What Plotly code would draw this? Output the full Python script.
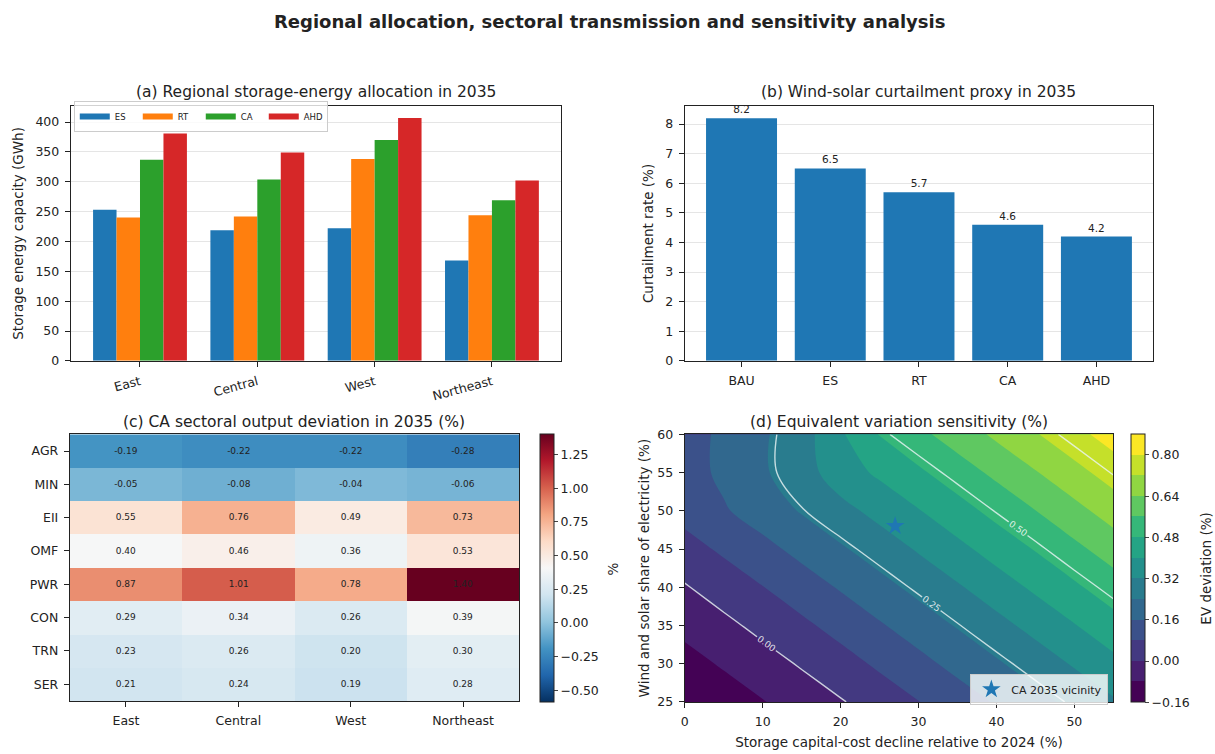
import plotly.graph_objects as go

W, H = 1215, 754

# (a) regional storage-energy allocation, GWh
regions = ["East", "Central", "West", "Northeast"]
scenarios = ["ES", "RT", "CA", "AHD"]
storage_es = [253, 219, 222, 168]
storage_rt = [240, 242, 338, 244]
storage_ca = [337, 304, 370, 269]
storage_ahd = [381, 349, 407, 302]
scenario_colors = ["#1f77b4", "#ff7f0e", "#2ca02c", "#d62728"]

# (b) curtailment proxy, %
curt_cases = ["BAU", "ES", "RT", "CA", "AHD"]
curt_rate = [8.2, 6.5, 5.7, 4.6, 4.2]

# (c) CA sectoral output deviation, %
sectors = ["AGR", "MIN", "EII", "OMF", "PWR", "CON", "TRN", "SER"]
dev_east = [-0.19, -0.05, 0.55, 0.40, 0.87, 0.29, 0.23, 0.21]
dev_central = [-0.22, -0.08, 0.76, 0.46, 1.01, 0.34, 0.26, 0.24]
dev_west = [-0.22, -0.04, 0.49, 0.36, 0.78, 0.26, 0.20, 0.19]
dev_northeast = [-0.28, -0.06, 0.73, 0.53, 1.40, 0.39, 0.30, 0.28]

# (d) EV deviation surface (%): rows follow ev_share, columns follow ev_cost
ev_cost = [0, 5, 10, 15, 20, 25, 30, 35, 40, 45, 50, 55]
ev_share = [25, 30, 35, 40, 45, 50, 55, 60]
ev_y25 = [-0.157, -0.121, -0.084, -0.045, -0.006, 0.036, 0.078, 0.122, 0.167, 0.214, 0.262, 0.311]
ev_y30 = [-0.109, -0.071, -0.032, 0.008, 0.050, 0.093, 0.137, 0.183, 0.230, 0.278, 0.328, 0.379]
ev_y35 = [-0.058, -0.019, 0.022, 0.064, 0.107, 0.152, 0.198, 0.246, 0.295, 0.345, 0.396, 0.449]
ev_y40 = [-0.006, 0.036, 0.078, 0.122, 0.167, 0.214, 0.262, 0.311, 0.362, 0.414, 0.467, 0.522]
ev_y45 = [0.050, 0.093, 0.137, 0.183, 0.230, 0.278, 0.328, 0.379, 0.432, 0.485, 0.541, 0.597]
ev_y50 = [0.107, 0.152, 0.198, 0.246, 0.295, 0.345, 0.396, 0.449, 0.504, 0.559, 0.616, 0.675]
ev_y55 = [0.125, 0.177, 0.230, 0.285, 0.362, 0.414, 0.467, 0.522, 0.578, 0.635, 0.694, 0.755]
ev_y60 = [0.125, 0.177, 0.230, 0.285, 0.389, 0.485, 0.541, 0.597, 0.655, 0.714, 0.775, 0.837]
ca_point_cost = [27]
ca_point_share = [48]

FONT = "DejaVu Sans"
TICK = 12.5
LABEL = 13.5
PANEL_TITLE = 15.5


def px_x(p):
    return p / W


def px_y(p):
    return 1 - p / H


def fmt(v):
    return f"{v:.2f}".replace("-", "\u2212")


fig = go.Figure()

# ---- (a) grouped bars, with slim line swatches as legend keys
for name, vals, col in zip(scenarios, [storage_es, storage_rt, storage_ca, storage_ahd], scenario_colors):
    fig.add_trace(go.Bar(x=regions, y=vals, name=name, marker=dict(color=col, line=dict(width=0)),
                         xaxis="x", yaxis="y", showlegend=False))
for name, col in zip(scenarios, scenario_colors):
    fig.add_trace(go.Scatter(x=[None], y=[None], mode="lines", name=name,
                             line=dict(color=col, width=6), xaxis="x", yaxis="y",
                             legend="legend", hoverinfo="skip"))

# ---- (b) curtailment bars
fig.add_trace(go.Bar(x=curt_cases, y=curt_rate, marker=dict(color="#1f77b4", line=dict(width=0)),
                     text=[f"{v:.1f}" for v in curt_rate], textposition="outside",
                     textfont=dict(size=10.5, color="#222"), cliponaxis=False,
                     xaxis="x2", yaxis="y2", showlegend=False))

# ---- (c) heatmap
rdbu_r = ["rgb(5,48,97)", "rgb(33,102,172)", "rgb(67,147,195)", "rgb(146,197,222)",
          "rgb(209,229,240)", "rgb(247,247,247)", "rgb(253,219,199)", "rgb(244,165,130)",
          "rgb(214,96,77)", "rgb(178,24,43)", "rgb(103,0,31)"]
rdbu_scale = [[i / 10, c] for i, c in enumerate(rdbu_r)]
z_dev = [list(r) for r in zip(dev_east, dev_central, dev_west, dev_northeast)]
hm_ticks = [-0.5, -0.25, 0.0, 0.25, 0.5, 0.75, 1.0, 1.25]
fig.add_trace(go.Heatmap(
    x=regions, y=sectors, z=z_dev, zmin=-0.59, zmax=1.40, colorscale=rdbu_scale,
    texttemplate="%{z:.2f}", textfont=dict(size=9, color="#222"),
    xaxis="x3", yaxis="y3", showlegend=False,
    colorbar=dict(x=px_x(538), xanchor="left", y=px_y(435), yanchor="top",
                  len=273 / H, lenmode="fraction", thickness=14, xpad=0, ypad=0,
                  outlinewidth=1, outlinecolor="#222",
                  tickvals=hm_ticks, ticktext=[fmt(t) for t in hm_ticks],
                  ticks="outside", ticklen=4, tickfont=dict(size=TICK)),
))

# ---- (d) filled contour + labelled lines
viridis = ["#440154", "#482878", "#3e4989", "#31688e", "#26828e",
           "#1f9e89", "#35b779", "#6ece58", "#b5de2b", "#fde725"]
n_bands = 13
vir_scale = [[0.0, viridis[0]]]
for i, c in enumerate(viridis):
    q = i / (len(viridis) - 1)
    vir_scale.append([(n_bands * q + 0.5) / (n_bands + 1), c])
vir_scale.append([1.0, viridis[-1]])

ev_grid = [ev_y25, ev_y30, ev_y35, ev_y40, ev_y45, ev_y50, ev_y55, ev_y60]
ev_ticks = [-0.16, 0.0, 0.16, 0.32, 0.48, 0.64, 0.80]
fig.add_trace(go.Contour(
    x=ev_cost, y=ev_share, z=ev_grid, zmin=-0.16, zmax=0.88, zauto=False,
    autocontour=False, contours=dict(start=-0.16, end=0.88, size=0.08, coloring="fill", showlines=False),
    line=dict(width=0), colorscale=vir_scale,
    xaxis="x4", yaxis="y4", showlegend=False,
    colorbar=dict(x=px_x(1131), xanchor="left", y=px_y(435), yanchor="top",
                  len=273 / H, lenmode="fraction", thickness=14, xpad=0, ypad=0,
                  outlinewidth=1, outlinecolor="#222",
                  tickvals=ev_ticks, ticktext=[fmt(t) for t in ev_ticks],
                  ticks="outside", ticklen=4, tickfont=dict(size=TICK)),
))
fig.add_trace(go.Contour(
    x=ev_cost, y=ev_share, z=ev_grid,
    autocontour=False,
    contours=dict(start=0.0, end=0.75, size=0.25, coloring="lines", showlabels=True,
                  labelformat=".2f", labelfont=dict(size=9, color="rgba(255,255,255,0.85)")),
    line=dict(width=1.4),
    colorscale=[[0, "rgba(235,245,245,0.8)"], [1, "rgba(235,245,245,0.8)"]],
    showscale=False, xaxis="x4", yaxis="y4", showlegend=False, hoverinfo="skip",
))
fig.add_trace(go.Scatter(
    x=ca_point_cost, y=ca_point_share, mode="markers", name="CA 2035 vicinity",
    marker=dict(symbol="star", size=14, color="#1f77b4"),
    xaxis="x4", yaxis="y4", legend="legend2",
))

axis_common = dict(showline=True, mirror=True, linecolor="#222", linewidth=1,
                   ticks="outside", ticklen=5, tickcolor="#222", tickfont=dict(size=TICK),
                   ticklabelstandoff=3, zeroline=False)

fig.update_layout(
    width=W, height=H, margin=dict(l=0, r=0, t=0, b=0),
    paper_bgcolor="white", plot_bgcolor="white",
    font=dict(family=FONT, size=TICK, color="#222"),
    barmode="group", bargap=0.2, bargroupgap=0,
    xaxis=dict(domain=[px_x(67), px_x(559)], anchor="y", range=[-0.59, 3.59],
               tickangle=-15, showgrid=False, **axis_common),
    yaxis=dict(domain=[px_y(360), px_y(100)], anchor="x", range=[0, 427], dtick=50,
               showgrid=True, gridcolor="rgba(0,0,0,0.1)", gridwidth=0.8,
               title=dict(text="Storage energy capacity (GWh)", font=dict(size=LABEL), standoff=8),
               **axis_common),
    xaxis2=dict(domain=[px_x(683), px_x(1153)], anchor="y2", range=[-0.64, 4.64],
                showgrid=False, **axis_common),
    yaxis2=dict(domain=[px_y(360), px_y(100)], anchor="x2", range=[0, 8.61], dtick=1,
                showgrid=True, gridcolor="rgba(0,0,0,0.1)", gridwidth=0.8,
                title=dict(text="Curtailment rate (%)", font=dict(size=LABEL), standoff=8),
                **axis_common),
    xaxis3=dict(domain=[px_x(66), px_x(517)], anchor="y3", showgrid=False, **axis_common),
    yaxis3=dict(domain=[px_y(707), px_y(435)], anchor="x3", autorange="reversed",
                showgrid=False, **axis_common),
    xaxis4=dict(domain=[px_x(683), px_x(1113)], anchor="y4", range=[0, 55], dtick=10,
                showgrid=False,
                title=dict(text="Storage capital-cost decline relative to 2024 (%)",
                           font=dict(size=LABEL), standoff=9),
                **axis_common),
    yaxis4=dict(domain=[px_y(708), px_y(435)], anchor="x4", range=[25, 60], dtick=5,
                showgrid=False,
                title=dict(text="Wind and solar share of electricity (%)",
                           font=dict(size=LABEL), standoff=4),
                **axis_common),
    legend=dict(x=px_x(70), y=px_y(95), xanchor="left", yanchor="top", orientation="h",
                font=dict(size=8.5), bgcolor="rgba(255,255,255,0.8)",
                bordercolor="#cccccc", borderwidth=1, itemwidth=30,
                entrywidth=18, entrywidthmode="pixels", tracegroupgap=0),
    legend2=dict(x=px_x(1108), y=px_y(711), xanchor="right", yanchor="bottom",
                 font=dict(size=11), bgcolor="rgba(255,255,255,0.8)",
                 bordercolor="#cccccc", borderwidth=1),
)

annotations = [
    dict(text="<b>Regional allocation, sectoral transmission and sensitivity analysis</b>",
         x=0.5, y=px_y(14), font=dict(size=18)),
    dict(text="(a) Regional storage-energy allocation in 2035", x=px_x(313), y=px_y(86),
         font=dict(size=PANEL_TITLE)),
    dict(text="(b) Wind-solar curtailment proxy in 2035", x=px_x(918), y=px_y(86),
         font=dict(size=PANEL_TITLE)),
    dict(text="(c) CA sectoral output deviation in 2035 (%)", x=px_x(291), y=px_y(422),
         font=dict(size=PANEL_TITLE)),
    dict(text="(d) Equivalent variation sensitivity (%)", x=px_x(898), y=px_y(422),
         font=dict(size=PANEL_TITLE)),
    dict(text="%", x=px_x(611), y=px_y(572), textangle=-90, font=dict(size=LABEL)),
    dict(text="EV deviation (%)", x=px_x(1206), y=px_y(572), textangle=-90,
         font=dict(size=LABEL)),
]
for a in annotations:
    fig.add_annotation(xref="paper", yref="paper", showarrow=False,
                       xanchor="center", yanchor="middle", **a)

fig.write_html("out.html")
